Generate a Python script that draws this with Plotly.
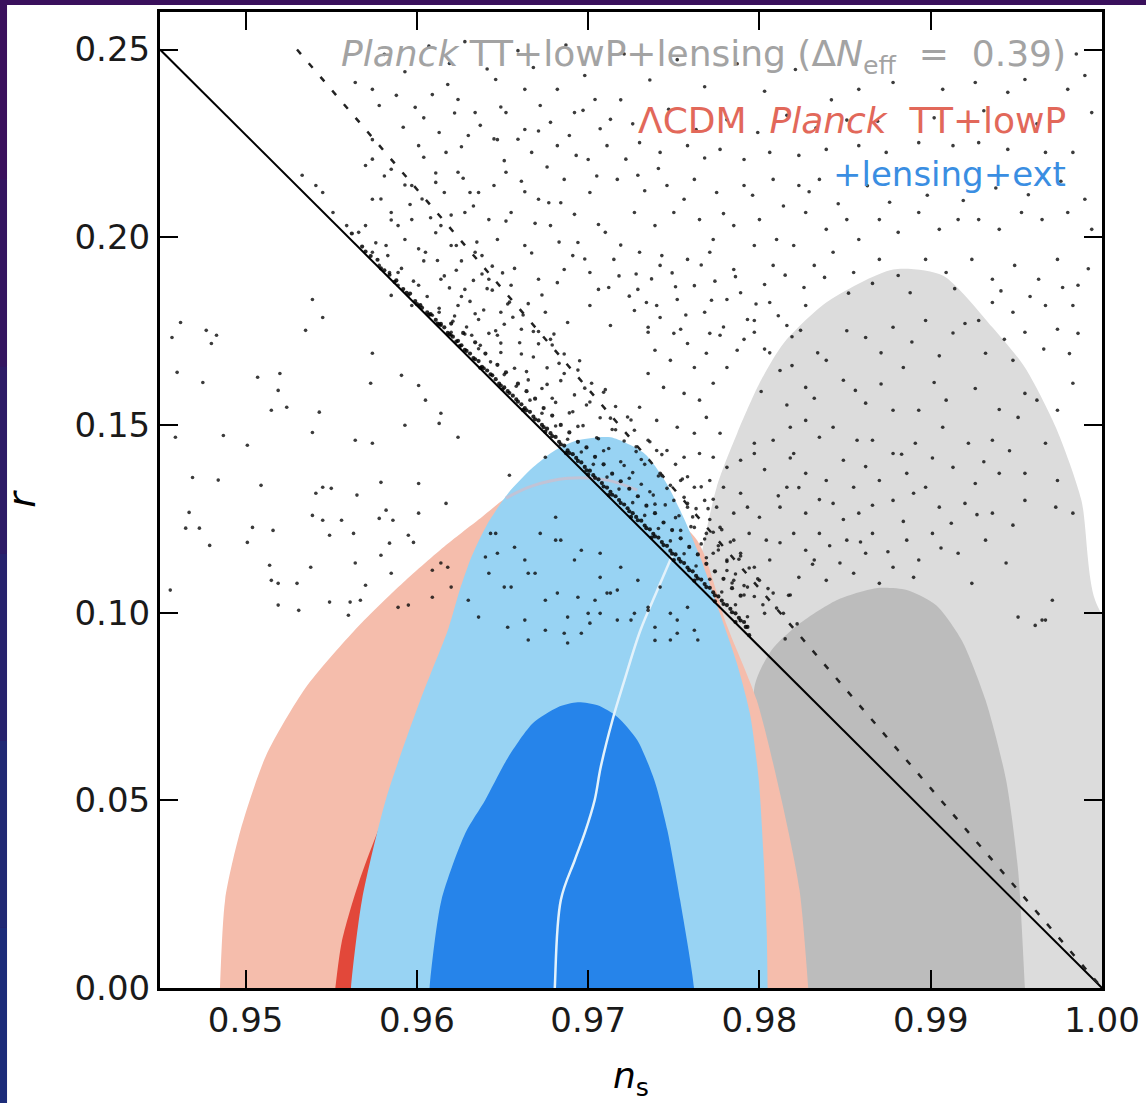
import plotly.graph_objects as go

# ---------------- axes ----------------
X_RANGE = [0.945, 1.0]
Y_RANGE = [0.0, 0.26]
X_TICKS = [0.95, 0.96, 0.97, 0.98, 0.99, 1.00]
Y_TICKS = [0.00, 0.05, 0.10, 0.15, 0.20, 0.25]

# ---------------- contours (ns, r) ----------------
# Planck TT+lowP+lensing (Delta Neff = 0.39): 95% (light grey) and 68% (dark grey)
NEFF95_NS = [0.9745, 0.9750, 0.9760, 0.9775, 0.9787, 0.9800, 0.9814, 0.9839, 0.9878,
             0.9907, 0.9936, 0.9955, 0.9973, 0.9988, 0.9996, 1.0040, 1.0060, 1.0060, 0.9745]
NEFF95_R = [-0.010, 0.050, 0.100, 0.1334, 0.1478, 0.1611, 0.1717, 0.1826, 0.1914,
            0.1898, 0.1760, 0.1653, 0.1494, 0.1299, 0.1033, 0.070, 0.000, -0.010, -0.010]

NEFF68_NS = [0.9810, 0.9805, 0.9797, 0.9807, 0.9822, 0.9845, 0.9868, 0.9886, 0.9903,
             0.9918, 0.9932, 0.9944, 0.9951, 0.9955, 0.9956, 0.9810]
NEFF68_R = [-0.010, 0.040, 0.080, 0.090, 0.0966, 0.1033, 0.1065, 0.1060, 0.1020,
            0.0927, 0.0767, 0.0554, 0.0314, 0.000, -0.010, -0.010]

# LCDM Planck TT+lowP: 95% (salmon) and 68% (red)
LCDM95_NS = [0.94843, 0.94880, 0.94970, 0.95120, 0.95350, 0.95630, 0.95920, 0.96170,
             0.96380, 0.96520, 0.96670, 0.96881, 0.97113, 0.97287, 0.97636, 0.97810,
             0.97984, 0.98129, 0.98234, 0.98300]
LCDM95_R = [-0.010, 0.0234, 0.0420, 0.0620, 0.0800, 0.0950, 0.1080, 0.1180,
            0.1255, 0.1305, 0.1337, 0.1358, 0.1353, 0.1326, 0.1193, 0.0966,
            0.0767, 0.0501, 0.0261, -0.010]

LCDM68_NS = [0.9550, 0.9556, 0.9566, 0.9585, 0.9615, 0.9660, 0.9700, 0.9740, 0.9765, 0.9778, 0.9780]
LCDM68_R = [-0.010, 0.012, 0.028, 0.050, 0.072, 0.085, 0.082, 0.065, 0.035, 0.000, -0.010]

# +lensing+ext: 95% (light blue) and 68% (blue)
EXT95_NS = [0.95610, 0.95615, 0.95679, 0.95818, 0.96020, 0.96184, 0.96250, 0.96320,
            0.96410, 0.96533, 0.96678, 0.96805, 0.96939, 0.97131, 0.97328, 0.97450,
            0.97560, 0.97660, 0.97769, 0.97868, 0.97944, 0.97996, 0.98025, 0.98042,
            0.98048, 0.98050]
EXT95_R = [-0.010, 0.000, 0.0234, 0.0501, 0.0767, 0.0958, 0.1060, 0.1150,
           0.1235, 0.1318, 0.1387, 0.1432, 0.1459, 0.1467, 0.1424, 0.1350,
           0.1250, 0.1140, 0.0998, 0.0865, 0.0732, 0.0554, 0.0341, 0.0154,
           0.000, -0.010]

EXT68_NS = [0.96070, 0.96074, 0.96143, 0.96283, 0.96399, 0.96533, 0.96678, 0.96823,
            0.96939, 0.97055, 0.97171, 0.97287, 0.97386, 0.97462, 0.97537, 0.97618, 0.97620]
EXT68_R = [-0.010, 0.000, 0.0234, 0.0413, 0.0501, 0.0615, 0.0706, 0.0748,
           0.0761, 0.0753, 0.0722, 0.0660, 0.0554, 0.0421, 0.0234, 0.000, -0.010]

# pale model track through the blue contours
TRACK_NS = [0.96800, 0.96805, 0.96840, 0.96922, 0.96980, 0.97038, 0.97073, 0.97142,
            0.97212, 0.97305, 0.97404, 0.97491]
TRACK_R = [-0.005, 0.000, 0.0234, 0.0341, 0.0413, 0.0501, 0.0588, 0.0714,
           0.0820, 0.0953, 0.1060, 0.1153]

# straight reference lines
SOLID_NS = [0.945, 1.000]
SOLID_R = [0.250, 0.000]
DASH_NS = [0.953, 1.000]
DASH_R = [0.250, 0.000]

# ---------------- sample points (ns, r) ----------------
DOTS_LEFT = [
    (0.9462, 0.1773), (0.9457, 0.1733), (0.9477, 0.1752), (0.9483, 0.1739), (0.9480, 0.1717),
    (0.9545, 0.1786), (0.9535, 0.1752), (0.9539, 0.1834), (0.9460, 0.1640), (0.9475, 0.1613),
    (0.9507, 0.1627), (0.9520, 0.1637), (0.9519, 0.1592), (0.9524, 0.1547), (0.9515, 0.1539),
    (0.9543, 0.1534), (0.9574, 0.1691), (0.9573, 0.1611), (0.9591, 0.1632), (0.9605, 0.1566),
    (0.9593, 0.1499), (0.9614, 0.1531), (0.9613, 0.1504), (0.9624, 0.1467), (0.9459, 0.1467),
    (0.9487, 0.1472), (0.9501, 0.1446), (0.9539, 0.1480), (0.9564, 0.1459), (0.9574, 0.1451),
    (0.9469, 0.1360), (0.9484, 0.1353), (0.9509, 0.1339), (0.9545, 0.1334), (0.9541, 0.1318),
    (0.9550, 0.1331), (0.9565, 0.1313), (0.9579, 0.1347), (0.9601, 0.1344), (0.9617, 0.1291),
    (0.9467, 0.1267), (0.9465, 0.1225), (0.9473, 0.1225), (0.9504, 0.1227), (0.9516, 0.1219),
    (0.9539, 0.1259), (0.9545, 0.1246), (0.9556, 0.1246), (0.9578, 0.1251), (0.9582, 0.1273),
    (0.9586, 0.1246), (0.9601, 0.1265), (0.9595, 0.1206), (0.9549, 0.1206), (0.9563, 0.1211),
    (0.9479, 0.1179), (0.9501, 0.1187), (0.9584, 0.1185), (0.9598, 0.1187), (0.9514, 0.1126),
    (0.9538, 0.1121), (0.9564, 0.1132), (0.9585, 0.1105), (0.9579, 0.1153), (0.9515, 0.1086),
    (0.9519, 0.1078), (0.9530, 0.1078), (0.9456, 0.1060), (0.9570, 0.1073), (0.9549, 0.1028),
    (0.9561, 0.1028), (0.9567, 0.1033), (0.9519, 0.1020), (0.9531, 0.1006), (0.9560, 0.0993),
    (0.9654, 0.1366), (0.9675, 0.1414), (0.9601, 0.1605),
]

DOTS_INSIDE = [
    (0.9642, 0.1105), (0.9657, 0.1174), (0.9651, 0.1068), (0.9663, 0.1140), (0.9665, 0.1105),
    (0.9675, 0.1033), (0.9682, 0.1052), (0.9688, 0.0988), (0.9696, 0.0945), (0.9704, 0.1033),
    (0.9707, 0.0998), (0.9713, 0.1052), (0.9719, 0.1121), (0.9725, 0.0980), (0.9729, 0.1086),
    (0.9735, 0.1014), (0.9739, 0.0926), (0.9742, 0.1068), (0.9748, 0.0998), (0.9752, 0.0945),
    (0.9758, 0.1014), (0.9762, 0.0953), (0.9684, 0.1193), (0.9696, 0.1166), (0.9707, 0.1158),
    (0.9681, 0.1254), (0.9672, 0.1211), (0.9646, 0.1211), (0.9640, 0.1148), (0.9630, 0.1033),
    (0.9636, 0.0988), (0.9653, 0.0961), (0.9665, 0.0927), (0.9686, 0.0945), (0.9688, 0.0919),
    (0.9701, 0.0972), (0.9717, 0.0980), (0.9727, 0.0998), (0.9739, 0.0961), (0.9748, 0.0927),
    (0.9752, 0.0980), (0.9764, 0.0927), (0.9694, 0.1041), (0.9711, 0.1052), (0.9735, 0.1006),
    (0.9614, 0.1132), (0.9618, 0.1121), (0.9609, 0.1113), (0.9589, 0.1014), (0.9595, 0.1020),
    (0.9609, 0.1041), (0.9620, 0.1068), (0.9643, 0.1211), (0.9647, 0.1158), (0.9655, 0.1068),
    (0.9669, 0.1105), (0.9692, 0.1140), (0.9700, 0.0998), (0.9681, 0.1193), (0.9707, 0.1094),
    (0.9717, 0.1060), (0.9663, 0.0980), (0.9675, 0.0953),
]

# the dense ridge hugging the solid line
DOTS_BAND = [
    (0.9562, 0.2010), (0.9568, 0.1975), (0.9573, 0.1950), (0.9577, 0.1940), (0.9581, 0.1912),
    (0.9584, 0.1900), (0.9588, 0.1885), (0.9592, 0.1862), (0.9596, 0.1850), (0.9599, 0.1830),
    (0.9603, 0.1812), (0.9606, 0.1800), (0.9608, 0.1795), (0.9611, 0.1780), (0.9613, 0.1768),
    (0.9616, 0.1760), (0.9618, 0.1745), (0.9621, 0.1735), (0.9623, 0.1722), (0.9626, 0.1712),
    (0.9628, 0.1700), (0.9631, 0.1690), (0.9633, 0.1678), (0.9636, 0.1670), (0.9638, 0.1655),
    (0.9641, 0.1645), (0.9643, 0.1635), (0.9646, 0.1622), (0.9648, 0.1610), (0.9651, 0.1600),
    (0.9653, 0.1590), (0.9656, 0.1578), (0.9658, 0.1568), (0.9661, 0.1555), (0.9663, 0.1545),
    (0.9666, 0.1535), (0.9668, 0.1522), (0.9671, 0.1512), (0.9673, 0.1500), (0.9676, 0.1490),
    (0.9678, 0.1478), (0.9681, 0.1468), (0.9683, 0.1455), (0.9686, 0.1445), (0.9688, 0.1432),
    (0.9691, 0.1422), (0.9693, 0.1412), (0.9696, 0.1400), (0.9698, 0.1388), (0.9701, 0.1378),
    (0.9703, 0.1366), (0.9706, 0.1355), (0.9708, 0.1345), (0.9711, 0.1333), (0.9713, 0.1322),
    (0.9716, 0.1310), (0.9718, 0.1300), (0.9721, 0.1288), (0.9723, 0.1278), (0.9726, 0.1265),
    (0.9728, 0.1255), (0.9731, 0.1245), (0.9733, 0.1232), (0.9736, 0.1222), (0.9738, 0.1210),
    (0.9741, 0.1200), (0.9743, 0.1188), (0.9746, 0.1178), (0.9748, 0.1165), (0.9751, 0.1155),
    (0.9753, 0.1143), (0.9756, 0.1132), (0.9758, 0.1120), (0.9761, 0.1110), (0.9763, 0.1098),
    (0.9766, 0.1088), (0.9768, 0.1076), (0.9771, 0.1066), (0.9773, 0.1054), (0.9776, 0.1043),
    (0.9778, 0.1032), (0.9781, 0.1020), (0.9783, 0.1010), (0.9786, 0.0998), (0.9788, 0.0986),
    (0.9791, 0.0975), (0.9793, 0.0962),
    (0.9620, 0.1770), (0.9627, 0.1745), (0.9634, 0.1720), (0.9640, 0.1690), (0.9647, 0.1660),
    (0.9652, 0.1640), (0.9659, 0.1610), (0.9664, 0.1590), (0.9669, 0.1570), (0.9674, 0.1545),
    (0.9679, 0.1525), (0.9684, 0.1500), (0.9689, 0.1480), (0.9694, 0.1455), (0.9699, 0.1440),
    (0.9704, 0.1415), (0.9709, 0.1395), (0.9714, 0.1370), (0.9719, 0.1350), (0.9724, 0.1330),
    (0.9729, 0.1310), (0.9734, 0.1285), (0.9739, 0.1265), (0.9744, 0.1240), (0.9749, 0.1220),
    (0.9754, 0.1198), (0.9759, 0.1175), (0.9764, 0.1155), (0.9769, 0.1130), (0.9774, 0.1110),
    (0.9779, 0.1090), (0.9784, 0.1065), (0.9789, 0.1045),
    (0.9600, 0.1822), (0.9612, 0.1770), (0.9625, 0.1710), (0.9637, 0.1652), (0.9650, 0.1595),
    (0.9662, 0.1540), (0.9675, 0.1482), (0.9687, 0.1425), (0.9700, 0.1368), (0.9712, 0.1313),
    (0.9725, 0.1255), (0.9737, 0.1200), (0.9750, 0.1140), (0.9762, 0.1085), (0.9774, 0.1030),
    (0.9786, 0.0975), (0.9794, 0.0940),
    (0.9570, 0.1962), (0.9579, 0.1917), (0.9587, 0.1881), (0.9594, 0.1852), (0.9602, 0.1819),
    (0.9607, 0.1793), (0.9614, 0.1769), (0.9619, 0.1741), (0.9624, 0.1724), (0.9629, 0.1697),
    (0.9634, 0.1675), (0.9639, 0.1651), (0.9644, 0.1632), (0.9649, 0.1605), (0.9654, 0.1585),
    (0.9659, 0.1562), (0.9664, 0.1539), (0.9669, 0.1515), (0.9674, 0.1494), (0.9679, 0.1470),
    (0.9684, 0.1448), (0.9689, 0.1425), (0.9694, 0.1404), (0.9699, 0.1379), (0.9704, 0.1359),
    (0.9709, 0.1336), (0.9714, 0.1314), (0.9719, 0.1292), (0.9724, 0.1270), (0.9729, 0.1246),
    (0.9734, 0.1225), (0.9739, 0.1203), (0.9744, 0.1180), (0.9749, 0.1157), (0.9754, 0.1136),
    (0.9759, 0.1113), (0.9764, 0.1091), (0.9769, 0.1068), (0.9774, 0.1046), (0.9779, 0.1023),
    (0.9784, 0.1001), (0.9789, 0.0979), (0.9792, 0.0962),
]

# the crowded wedge between the solid and the dashed line
DOTS_WEDGE = [
    (0.9576, 0.1985), (0.9579, 0.2102), (0.9574, 0.2208), (0.9583, 0.1951), (0.9585, 0.2046),
    (0.9581, 0.2163), (0.9591, 0.1917), (0.9589, 0.2031), (0.9593, 0.2139), (0.9598, 0.1883),
    (0.9601, 0.1969), (0.9596, 0.2087), (0.9606, 0.1842), (0.9604, 0.1937), (0.9608, 0.2052),
    (0.9613, 0.1811), (0.9616, 0.1897), (0.9611, 0.2012), (0.9621, 0.1776), (0.9619, 0.1865),
    (0.9623, 0.1978), (0.9620, 0.2059), (0.9628, 0.1742), (0.9631, 0.1829), (0.9626, 0.1937),
    (0.9636, 0.1703), (0.9634, 0.1796), (0.9638, 0.1902), (0.9635, 0.1987), (0.9643, 0.1668),
    (0.9646, 0.1751), (0.9641, 0.1863), (0.9651, 0.1634), (0.9649, 0.1718), (0.9653, 0.1822),
    (0.9650, 0.1905), (0.9658, 0.1603), (0.9661, 0.1689), (0.9656, 0.1787), (0.9666, 0.1566),
    (0.9664, 0.1642), (0.9668, 0.1749), (0.9665, 0.1823), (0.9673, 0.1531), (0.9676, 0.1608),
    (0.9671, 0.1716), (0.9681, 0.1497), (0.9679, 0.1571), (0.9683, 0.1664), (0.9680, 0.1742),
    (0.9688, 0.1462), (0.9691, 0.1535), (0.9686, 0.1637), (0.9696, 0.1428), (0.9694, 0.1496),
    (0.9698, 0.1598), (0.9695, 0.1671), (0.9703, 0.1395), (0.9706, 0.1463), (0.9701, 0.1561),
    (0.9711, 0.1361), (0.9709, 0.1431), (0.9713, 0.1518), (0.9710, 0.1594), (0.9718, 0.1329),
    (0.9721, 0.1392), (0.9716, 0.1487), (0.9726, 0.1293), (0.9724, 0.1358), (0.9728, 0.1442),
    (0.9725, 0.1513), (0.9733, 0.1259), (0.9736, 0.1322), (0.9731, 0.1408), (0.9741, 0.1224),
    (0.9739, 0.1289), (0.9743, 0.1365), (0.9740, 0.1432), (0.9748, 0.1191), (0.9751, 0.1253),
    (0.9746, 0.1331), (0.9756, 0.1157), (0.9754, 0.1219), (0.9758, 0.1291), (0.9755, 0.1356),
    (0.9763, 0.1124), (0.9766, 0.1183), (0.9761, 0.1255), (0.9771, 0.1089), (0.9769, 0.1146),
    (0.9773, 0.1214), (0.9770, 0.1277), (0.9778, 0.1055), (0.9781, 0.1112), (0.9776, 0.1178),
    (0.9786, 0.1021), (0.9784, 0.1079), (0.9788, 0.1142), (0.9793, 0.0989), (0.9791, 0.1047),
    (0.9604, 0.2213), (0.9611, 0.2171), (0.9626, 0.2241), (0.9631, 0.2119), (0.9645, 0.2262),
    (0.9652, 0.2043), (0.9661, 0.2149), (0.9669, 0.2037), (0.9677, 0.2092), (0.9683, 0.1987),
    (0.9692, 0.2061), (0.9698, 0.1942), (0.9706, 0.2034), (0.9712, 0.1866), (0.9719, 0.1979),
    (0.9728, 0.1902), (0.9734, 0.1826), (0.9743, 0.1951), (0.9751, 0.1868), (0.9757, 0.1793),
    (0.9766, 0.1926), (0.9772, 0.1832), (0.9779, 0.1761), (0.9786, 0.1895), (0.9791, 0.1728),
    (0.9798, 0.1822), (0.9806, 0.1692), (0.9811, 0.1791), (0.9819, 0.1658), (0.9824, 0.1752),
]

DOTS_UPPER = [
    (0.9564, 0.2412), (0.9574, 0.2394), (0.9588, 0.2378), (0.9578, 0.2351), (0.9599, 0.2346),
    (0.9609, 0.2380), (0.9618, 0.2407), (0.9624, 0.2367), (0.9634, 0.2332), (0.9646, 0.2420),
    (0.9652, 0.2332), (0.9663, 0.2394), (0.9672, 0.2351), (0.9682, 0.2394), (0.9692, 0.2332),
    (0.9704, 0.2367), (0.9713, 0.2314), (0.9678, 0.2306), (0.9663, 0.2287), (0.9647, 0.2260),
    (0.9630, 0.2271), (0.9617, 0.2226), (0.9601, 0.2244), (0.9574, 0.2260), (0.9570, 0.2191),
    (0.9585, 0.2181), (0.9597, 0.2138), (0.9611, 0.2146), (0.9624, 0.2173), (0.9636, 0.2119),
    (0.9652, 0.2173), (0.9667, 0.2226), (0.9682, 0.2244), (0.9700, 0.2207), (0.9711, 0.2244),
    (0.9717, 0.2154), (0.9701, 0.2119), (0.9686, 0.2154), (0.9671, 0.2101), (0.9655, 0.2066),
    (0.9642, 0.2047), (0.9628, 0.2066), (0.9614, 0.2031), (0.9597, 0.2047), (0.9585, 0.2066),
    (0.9574, 0.2101), (0.9570, 0.2031), (0.9582, 0.1978), (0.9593, 0.1994), (0.9605, 0.1960),
    (0.9620, 0.1978), (0.9634, 0.1960), (0.9647, 0.1994), (0.9663, 0.1978), (0.9678, 0.2031),
    (0.9694, 0.1986), (0.9710, 0.2013), (0.9715, 0.1941), (0.9701, 0.1906), (0.9686, 0.1914),
    (0.9671, 0.1888), (0.9655, 0.1872), (0.9642, 0.1888), (0.9628, 0.1861), (0.9614, 0.1888),
    (0.9601, 0.1872), (0.9589, 0.1906), (0.9578, 0.1925), (0.9585, 0.1845), (0.9597, 0.1818),
    (0.9613, 0.1800), (0.9624, 0.1818), (0.9636, 0.1781), (0.9649, 0.1800), (0.9661, 0.1755),
    (0.9675, 0.1800), (0.9688, 0.1773), (0.9701, 0.1818), (0.9713, 0.1765), (0.9678, 0.1728),
    (0.9647, 0.1739), (0.9620, 0.1747), (0.9632, 0.1739),
    (0.9533, 0.2165), (0.9541, 0.2138), (0.9545, 0.2119), (0.9551, 0.2066), (0.9559, 0.2031),
    (0.9566, 0.2013), (0.9574, 0.1960), (0.9584, 0.1906), (0.9589, 0.1872), (0.9595, 0.1845),
    (0.9601, 0.1818), (0.9609, 0.1792), (0.9614, 0.1765), (0.9620, 0.1739),
    (0.9858, 0.2394), (0.9878, 0.2412), (0.9907, 0.2394), (0.9926, 0.2412), (0.9955, 0.2420),
    (0.9980, 0.2394), (0.9990, 0.2431), (0.9945, 0.2386), (0.9730, 0.2252), (0.9742, 0.2226),
    (0.9758, 0.2244), (0.9777, 0.2234), (0.9791, 0.2207), (0.9806, 0.2226), (0.9823, 0.2218),
    (0.9839, 0.2234), (0.9858, 0.2244), (0.9874, 0.2226), (0.9893, 0.2252), (0.9913, 0.2244),
    (0.9928, 0.2252), (0.9945, 0.2234), (0.9967, 0.2226), (0.9983, 0.2226), (0.9994, 0.2332),
    (0.9729, 0.2165), (0.9746, 0.2138), (0.9762, 0.2154), (0.9775, 0.2119), (0.9791, 0.2138),
    (0.9808, 0.2154), (0.9823, 0.2138), (0.9835, 0.2154), (0.9727, 0.2066), (0.9739, 0.2031),
    (0.9750, 0.2066), (0.9765, 0.2047), (0.9773, 0.1994), (0.9785, 0.2031), (0.9800, 0.2047),
    (0.9810, 0.1994), (0.9827, 0.2066), (0.9839, 0.2021), (0.9851, 0.2047), (0.9858, 0.1994),
    (0.9870, 0.2047), (0.9881, 0.2013), (0.9893, 0.2066), (0.9905, 0.2021), (0.9916, 0.2047),
    (0.9928, 0.2047), (0.9940, 0.2021), (0.9953, 0.2066), (0.9965, 0.2047), (0.9980, 0.2066),
    (0.9990, 0.2101), (0.9994, 0.2021), (0.9730, 0.1960), (0.9742, 0.1925), (0.9758, 0.1941),
    (0.9771, 0.1960), (0.9785, 0.1914), (0.9797, 0.1978), (0.9808, 0.1925), (0.9820, 0.1978),
    (0.9832, 0.1925), (0.9843, 0.1960), (0.9855, 0.1906), (0.9870, 0.1941), (0.9881, 0.1898),
    (0.9897, 0.1941), (0.9909, 0.1906), (0.9924, 0.1941), (0.9936, 0.1888), (0.9949, 0.1925),
    (0.9963, 0.1888), (0.9974, 0.1941), (0.9986, 0.1872), (0.9729, 0.1861), (0.9740, 0.1818),
    (0.9752, 0.1834), (0.9768, 0.1800), (0.9781, 0.1834), (0.9793, 0.1781), (0.9806, 0.1826),
    (0.9816, 0.1765), (0.9827, 0.1818), (0.9936, 0.1826), (0.9948, 0.1800), (0.9967, 0.1818),
    (0.9983, 0.1818), (0.9974, 0.1755), (0.9955, 0.1747), (0.9735, 0.1747), (0.9754, 0.1755),
    (0.9777, 0.1739), (0.9797, 0.1747),
    (0.9581, 0.2487), (0.9593, 0.2441), (0.9607, 0.2509), (0.9619, 0.2463), (0.9628, 0.2521),
    (0.9641, 0.2448), (0.9659, 0.2497), (0.9668, 0.2452), (0.9687, 0.2512), (0.9698, 0.2431),
    (0.9721, 0.2488), (0.9736, 0.2419), (0.9752, 0.2473), (0.9768, 0.2401), (0.9787, 0.2462),
    (0.9803, 0.2389), (0.9821, 0.2447), (0.9842, 0.2366), (0.9869, 0.2309), (0.9902, 0.2318),
    (0.9931, 0.2337), (0.9962, 0.2302), (0.9985, 0.2488), (0.9592, 0.2293), (0.9604, 0.2318),
    (0.9613, 0.2279), (0.9622, 0.2331), (0.9637, 0.2298), (0.9649, 0.2347), (0.9659, 0.2261),
    (0.9671, 0.2283), (0.9689, 0.2271), (0.9697, 0.2338), (0.9707, 0.2289), (0.9719, 0.2366),
    (0.9726, 0.2302), (0.9747, 0.2341), (0.9763, 0.2287), (0.9781, 0.2313), (0.9799, 0.2279),
    (0.9816, 0.2325), (0.9833, 0.2291), (0.9851, 0.2312), (0.9603, 0.2102), (0.9616, 0.2119),
    (0.9627, 0.2157), (0.9633, 0.2083), (0.9645, 0.2138), (0.9651, 0.2204), (0.9663, 0.2121),
    (0.9676, 0.2187), (0.9684, 0.2092), (0.9693, 0.2218), (0.9705, 0.2163), (0.9722, 0.2208),
    (0.9733, 0.2124), (0.9741, 0.2183), (0.9756, 0.2101), (0.9768, 0.2211), (0.9779, 0.2063),
    (0.9796, 0.2112), (0.9814, 0.2083), (0.9829, 0.2121), (0.9846, 0.2089), (0.9863, 0.2137),
    (0.9876, 0.2093), (0.9898, 0.2112), (0.9919, 0.2098), (0.9938, 0.2131), (0.9957, 0.2113),
    (0.9976, 0.2149), (0.9612, 0.1938), (0.9623, 0.1912), (0.9638, 0.1951), (0.9644, 0.1923),
    (0.9657, 0.1917), (0.9667, 0.1958), (0.9673, 0.1846), (0.9682, 0.1879), (0.9691, 0.1951),
    (0.9706, 0.1861), (0.9718, 0.1897), (0.9724, 0.1843), (0.9737, 0.1889), (0.9749, 0.1905),
    (0.9762, 0.1871), (0.9774, 0.1883), (0.9789, 0.1852), (0.9803, 0.1874), (0.9815, 0.1899),
    (0.9826, 0.1866), (0.9838, 0.1893), (0.9852, 0.1851), (0.9866, 0.1877), (0.9888, 0.1852),
    (0.9914, 0.1863), (0.9941, 0.1857), (0.9958, 0.1842), (0.9977, 0.1866), (0.9992, 0.1916),
]

DOTS_RIGHT = [
    (0.9727, 0.1805), (0.9735, 0.1760), (0.9742, 0.1786), (0.9750, 0.1744), (0.9739, 0.1699),
    (0.9748, 0.1672), (0.9758, 0.1717), (0.9762, 0.1653), (0.9769, 0.1691), (0.9735, 0.1637),
    (0.9744, 0.1600), (0.9756, 0.1584), (0.9765, 0.1566), (0.9773, 0.1611), (0.9781, 0.1653),
    (0.9787, 0.1699), (0.9797, 0.1778), (0.9771, 0.1744), (0.9730, 0.1547), (0.9740, 0.1512),
    (0.9752, 0.1494), (0.9762, 0.1478), (0.9769, 0.1520), (0.9777, 0.1478), (0.9727, 0.1486),
    (0.9735, 0.1459), (0.9746, 0.1432), (0.9756, 0.1414), (0.9765, 0.1424), (0.9773, 0.1414),
    (0.9781, 0.1387), (0.9789, 0.1406), (0.9797, 0.1424), (0.9742, 0.1371), (0.9754, 0.1352),
    (0.9762, 0.1334), (0.9771, 0.1352), (0.9779, 0.1334), (0.9789, 0.1318), (0.9750, 0.1299),
    (0.9758, 0.1281), (0.9768, 0.1299), (0.9775, 0.1281), (0.9785, 0.1265), (0.9793, 0.1281),
    (0.9800, 0.1254), (0.9762, 0.1227), (0.9769, 0.1211), (0.9777, 0.1227), (0.9785, 0.1193),
    (0.9794, 0.1211), (0.9804, 0.1193), (0.9773, 0.1158), (0.9781, 0.1140), (0.9789, 0.1158),
    (0.9797, 0.1121), (0.9806, 0.1140), (0.9785, 0.1086), (0.9793, 0.1068), (0.9800, 0.1086),
    (0.9808, 0.1052), (0.9814, 0.0998),
    (0.9622, 0.1790), (0.9626, 0.1842), (0.9629, 0.1761), (0.9633, 0.1885), (0.9637, 0.1712),
    (0.9639, 0.1806), (0.9642, 0.1744), (0.9644, 0.1859), (0.9649, 0.1693), (0.9651, 0.1768),
    (0.9654, 0.1827), (0.9657, 0.1651), (0.9660, 0.1719), (0.9662, 0.1793), (0.9665, 0.1620),
    (0.9668, 0.1681), (0.9671, 0.1749), (0.9673, 0.1597), (0.9676, 0.1652), (0.9679, 0.1713),
    (0.9681, 0.1560), (0.9684, 0.1618), (0.9686, 0.1689), (0.9689, 0.1532), (0.9692, 0.1580),
    (0.9694, 0.1646), (0.9697, 0.1498), (0.9699, 0.1553), (0.9702, 0.1611), (0.9705, 0.1466),
    (0.9707, 0.1519), (0.9709, 0.1587), (0.9712, 0.1437), (0.9714, 0.1488), (0.9716, 0.1549),
    (0.9719, 0.1402), (0.9721, 0.1457), (0.9723, 0.1521), (0.9726, 0.1373), (0.9728, 0.1429),
    (0.9731, 0.1342), (0.9733, 0.1395), (0.9736, 0.1455), (0.9738, 0.1313), (0.9741, 0.1364),
    (0.9743, 0.1421), (0.9745, 0.1287), (0.9748, 0.1339), (0.9751, 0.1395), (0.9753, 0.1258),
    (0.9756, 0.1307), (0.9758, 0.1362), (0.9760, 0.1229), (0.9763, 0.1277), (0.9766, 0.1335),
    (0.9768, 0.1196), (0.9771, 0.1248), (0.9773, 0.1302), (0.9776, 0.1167), (0.9778, 0.1221),
    (0.9781, 0.1136), (0.9783, 0.1188), (0.9786, 0.1103), (0.9789, 0.1151), (0.9791, 0.1072),
    (0.9794, 0.1119), (0.9797, 0.1043), (0.9799, 0.1090), (0.9802, 0.1021), (0.9805, 0.1064),
    (0.9810, 0.1012), (0.9817, 0.1046),
    (0.9812, 0.1645), (0.9827, 0.1600), (0.9839, 0.1672), (0.9849, 0.1619), (0.9862, 0.1733),
    (0.9878, 0.1760), (0.9884, 0.1653), (0.9897, 0.1778), (0.9920, 0.1770), (0.9932, 0.1691),
    (0.9928, 0.1778), (0.9948, 0.1672), (0.9955, 0.1584), (0.9909, 0.1566), (0.9893, 0.1539),
    (0.9878, 0.1539), (0.9862, 0.1558), (0.9843, 0.1494), (0.9827, 0.1512), (0.9818, 0.1494),
    (0.9808, 0.1459), (0.9797, 0.1451), (0.9820, 0.1424), (0.9835, 0.1467), (0.9857, 0.1459),
    (0.9866, 0.1459), (0.9878, 0.1424), (0.9891, 0.1451), (0.9907, 0.1494), (0.9922, 0.1451),
    (0.9936, 0.1459), (0.9951, 0.1520), (0.9967, 0.1451), (0.9974, 0.1539), (0.9983, 0.1611),
    (0.9986, 0.1744), (0.9955, 0.1371), (0.9940, 0.1371), (0.9926, 0.1344), (0.9913, 0.1387),
    (0.9897, 0.1334), (0.9886, 0.1371), (0.9870, 0.1352), (0.9855, 0.1334), (0.9839, 0.1352),
    (0.9827, 0.1371), (0.9816, 0.1334), (0.9812, 0.1281), (0.9827, 0.1265), (0.9843, 0.1291),
    (0.9858, 0.1265), (0.9878, 0.1299), (0.9890, 0.1318), (0.9905, 0.1281), (0.9920, 0.1291),
    (0.9936, 0.1265), (0.9955, 0.1299), (0.9973, 0.1281), (0.9983, 0.1265), (0.9974, 0.1352),
    (0.9820, 0.1211), (0.9835, 0.1211), (0.9851, 0.1193), (0.9866, 0.1211), (0.9886, 0.1193),
    (0.9901, 0.1211), (0.9916, 0.1158), (0.9932, 0.1193), (0.9944, 0.1132), (0.9832, 0.1140),
    (0.9847, 0.1132), (0.9862, 0.1158), (0.9878, 0.1121), (0.9893, 0.1140), (0.9823, 0.1094),
    (0.9839, 0.1086), (0.9855, 0.1105), (0.9870, 0.1078), (0.9890, 0.1094), (0.9924, 0.1078),
    (0.9965, 0.0980), (0.9971, 0.1033), (0.9951, 0.0988), (0.9961, 0.0966), (0.9967, 0.0980),
    (0.9803, 0.0998), (0.9815, 0.0930), (0.9822, 0.0970),
    (0.9803, 0.1702), (0.9819, 0.1735), (0.9834, 0.1692), (0.9851, 0.1751), (0.9871, 0.1692),
    (0.9889, 0.1721), (0.9905, 0.1684), (0.9913, 0.1745), (0.9943, 0.1728), (0.9966, 0.1702),
    (0.9981, 0.1690), (0.9801, 0.1589), (0.9816, 0.1553), (0.9832, 0.1571), (0.9856, 0.1592),
    (0.9871, 0.1609), (0.9902, 0.1613), (0.9926, 0.1597), (0.9940, 0.1541), (0.9962, 0.1566),
    (0.9803, 0.1381), (0.9818, 0.1412), (0.9849, 0.1406), (0.9862, 0.1389), (0.9883, 0.1422),
    (0.9901, 0.1412), (0.9931, 0.1402), (0.9946, 0.1431), (0.9811, 0.1311), (0.9823, 0.1333),
    (0.9835, 0.1301), (0.9849, 0.1248), (0.9866, 0.1286), (0.9884, 0.1243), (0.9912, 0.1238),
    (0.9927, 0.1261), (0.9948, 0.1233), (0.9812, 0.1186), (0.9827, 0.1166), (0.9841, 0.1178),
    (0.9859, 0.1188), (0.9875, 0.1162), (0.9906, 0.1172), (0.9818, 0.1047), (0.9831, 0.1129),
]

# ---------------- labels ----------------
LABEL_NEFF = "<i>Planck</i> TT+lowP+lensing (Δ<i>N</i><sub>eff</sub>  =  0.39)"
LABEL_LCDM = "ΛCDM  <i>Planck</i>  TT+lowP"
LABEL_EXT = "+lensing+ext"

# ---------------- colours ----------------
C_GREY95 = "#dcdcdc"
C_GREY68 = "#bcbcbc"
C_PINK95 = "#f5bdac"
C_RED68 = "#e2483a"
C_BLUE95 = "#98d3f3"
C_BLUE68 = "#2684ea"
FONT = "DejaVu Sans"

fig = go.Figure()


def add_region(ns, r, color, name):
    fig.add_trace(go.Scatter(
        x=ns, y=r, mode="lines", fill="toself", fillcolor=color,
        line=dict(color=color, width=0, shape="spline", smoothing=0.7),
        hoverinfo="skip", showlegend=False, name=name))


add_region(NEFF95_NS, NEFF95_R, C_GREY95, "ΔNeff 95%")
add_region(NEFF68_NS, NEFF68_R, C_GREY68, "ΔNeff 68%")
add_region(LCDM95_NS, LCDM95_R, C_PINK95, "ΛCDM 95%")
add_region(LCDM68_NS, LCDM68_R, C_RED68, "ΛCDM 68%")
add_region(EXT95_NS, EXT95_R, C_BLUE95, "ext 95%")
add_region(EXT68_NS, EXT68_R, C_BLUE68, "ext 68%")

# edge of the salmon contour seen through the light-blue one
fig.add_trace(go.Scatter(
    x=LCDM95_NS[9:14], y=LCDM95_R[9:14], mode="lines",
    line=dict(color="rgba(200,192,208,0.85)", width=3, shape="spline"),
    hoverinfo="skip", showlegend=False))

fig.add_trace(go.Scatter(
    x=TRACK_NS, y=TRACK_R, mode="lines",
    line=dict(color="#e3f2fb", width=2.5, shape="spline"),
    hoverinfo="skip", showlegend=False))

scatter_dots = DOTS_LEFT + DOTS_INSIDE + DOTS_UPPER + DOTS_RIGHT + DOTS_WEDGE
fig.add_trace(go.Scatter(
    x=[p[0] for p in scatter_dots], y=[p[1] for p in scatter_dots], mode="markers",
    marker=dict(size=3.6, color="rgba(10,10,10,0.8)", line=dict(width=0)),
    hoverinfo="skip", showlegend=False))
fig.add_trace(go.Scatter(
    x=[p[0] for p in DOTS_BAND], y=[p[1] for p in DOTS_BAND], mode="markers",
    marker=dict(size=4.2, color="rgba(0,0,0,0.85)", line=dict(width=0)),
    hoverinfo="skip", showlegend=False))

fig.add_trace(go.Scatter(
    x=SOLID_NS, y=SOLID_R, mode="lines",
    line=dict(color="black", width=2), hoverinfo="skip", showlegend=False))
fig.add_trace(go.Scatter(
    x=DASH_NS, y=DASH_R, mode="lines",
    line=dict(color="#222222", width=2.5, dash="6px,12px"),
    hoverinfo="skip", showlegend=False))

# ---------------- background frame (slide border) ----------------
shapes = [dict(type="rect", xref="paper", yref="paper", x0=-0.1624, x1=1.2, y0=-0.3, y1=1.0072,
               fillcolor="white", line=dict(width=0), layer="below")]
strip_cols = ["#3a105c", "#341560", "#2d1b66", "#26226d", "#202873", "#1c2c79"]
n = len(strip_cols)
for i, c in enumerate(strip_cols):
    y_top = 1.02 - i * (1.02 + 0.13) / n
    y_bot = 1.02 - (i + 1) * (1.02 + 0.13) / n
    shapes.append(dict(type="rect", xref="paper", yref="paper", x0=-0.2, x1=-0.1624,
                       y0=y_bot, y1=y_top if i else 1.1, fillcolor=c, line=dict(width=0), layer="below"))

annotations = [
    dict(text=LABEL_NEFF, x=0.9639, y=0.954, xref="paper", yref="paper", xanchor="right",
         yanchor="middle", showarrow=False, font=dict(family=FONT, size=36, color="#a3a3a3")),
    dict(text=LABEL_LCDM, x=0.9639, y=0.889, xref="paper", yref="paper", xanchor="right",
         yanchor="middle", showarrow=False, font=dict(family=FONT, size=36, color="#e2685a")),
    dict(text=LABEL_EXT, x=0.9639, y=0.834, xref="paper", yref="paper", xanchor="right",
         yanchor="middle", showarrow=False, font=dict(family=FONT, size=34, color="#3a8ee2")),
]

axis_common = dict(
    showgrid=False, zeroline=False, showline=True, linecolor="black", linewidth=3,
    mirror="ticks", ticks="inside", ticklen=18, tickwidth=2, tickcolor="black",
    tickformat=".2f", tickfont=dict(family=FONT, size=34, color="#1a1a1a"),
    automargin=False,
)

fig.update_layout(
    width=1146, height=1103,
    margin=dict(l=160, r=44, t=12, b=115),
    paper_bgcolor="#3a105c", plot_bgcolor="white",
    showlegend=False,
    shapes=shapes,
    annotations=annotations,
    xaxis=dict(range=X_RANGE, tickvals=X_TICKS,
               title=dict(text="<i>n</i><sub>s</sub>", font=dict(family=FONT, size=36, color="black"),
                          standoff=25),
               **axis_common),
    yaxis=dict(range=Y_RANGE, tickvals=Y_TICKS,
               title=dict(text="<i>r</i>", font=dict(family=FONT, size=38, color="black"),
                          standoff=62),
               **axis_common),
)

fig.write_html(
    "out.html",
    config={"displayModeBar": False},
    post_script="document.body.style.margin='0';document.body.style.overflow='hidden';"
                "document.body.style.background='#3a105c';",
)
